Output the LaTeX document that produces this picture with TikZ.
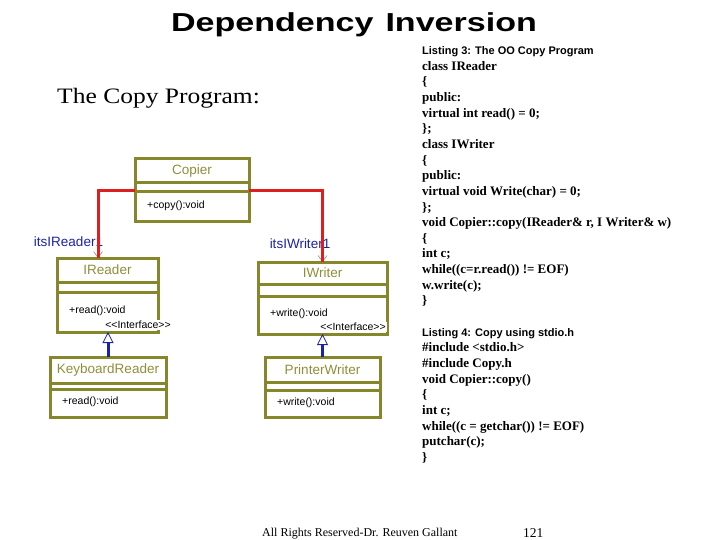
\documentclass[tikz,border=0pt]{standalone}
\usepackage{fontspec}
\setmainfont{Liberation Serif}
\setsansfont{Liberation Sans}
\usetikzlibrary{arrows.meta,positioning,calc}
\definecolor{olivo}{HTML}{86862A}
\definecolor{olivotxt}{HTML}{8E8E3A}
\definecolor{rojo}{HTML}{DD1F1F}
\definecolor{azul}{HTML}{1A22A8}
\definecolor{gris}{HTML}{8A8A8A}
\tikzset{
  classbox/.style={draw=olivo, line width=3pt, rectangle, inner sep=0pt, outer sep=0pt, anchor=north west},
  classline/.style={draw=olivo, line width=3pt},
  classname/.style={font=\sffamily\fontsize{13.5}{13.5}\selectfont, text=olivotxt, inner sep=0pt},
  classop/.style={font=\sffamily\fontsize{10.5}{10.5}\selectfont, anchor=west, inner sep=0pt},
  stereo/.style={font=\sffamily\fontsize{10.5}{10.5}\selectfont, fill=white, inner sep=1pt},
  rolename/.style={font=\sffamily\fontsize{13.5}{13.5}\selectfont, text=azul, inner sep=0pt},
  assoc/.style={draw=rojo, line width=3pt},
  barb/.style={draw=gris, line width=0.6pt, -{Straight Barb[length=6pt, width=9pt]}},
  realize/.style={draw=azul, line width=3pt, -{Triangle[open, length=11pt, width=11pt, line width=0.8pt]}},
  codetext/.style={font=\rmfamily\bfseries\fontsize{13}{15.65}\selectfont, align=left, inner sep=0pt, anchor=base west},
}
\newcommand{\lsthead}[1]{{\sffamily\bfseries\fontsize{11}{15.65}\selectfont #1}}

\begin{document}
\begin{tikzpicture}[x=1pt,y=-1pt]
  \useasboundingbox (0,0) rectangle (720,540);
  \node[font=\sffamily\bfseries\fontsize{26}{26}\selectfont, anchor=base, inner sep=0pt] (title) at (354,32)
    {\scalebox{1.31}[1]{Dependency\hspace{0.35em}Inversion}};
  \node[font=\rmfamily\fontsize{22}{22}\selectfont, anchor=base west, inner sep=0pt] (subtitle) at (57,104)
    {\scalebox{1.16}[1]{The Copy Program:}};
  % clases UML
  \foreach \nm/\x/\y/\w/\h/\sa/\sb/\ttl/\op in {
      copier/135/159/114/63/24/33/Copier/+copy():void,
      ireader/57/258/101/74/24/34/IReader/+read():void,
      iwriter/258/262/129/72/22/34/IWriter/+write():void,
      kbreader/50/357/116/60/26/32/KeyboardReader/+read():void,
      prwriter/265/357/115/60/25/33/PrinterWriter/+write():void}{
    \node[classbox, minimum width=\w pt, minimum height=\h pt] (\nm) at (\x,\y) {};
    \draw[classline] ([yshift=-\sa pt]\nm.north west) -- ([yshift=-\sa pt]\nm.north east);
    \draw[classline] ([yshift=-\sb pt]\nm.north west) -- ([yshift=-\sb pt]\nm.north east);
    \node[classname] (\nm-ttl) at ($(\nm.north)+(0,\sa/2)$) {\ttl};
    \node[classop] (\nm-op) at ($(\nm.north west)+(12,{(\sb+\h)/2-1})$) {\op};
  }
  \node[stereo] (irdst) at ([xshift=-20pt, yshift=7pt]ireader.south east) {<{}<Interface>{}>};
  \node[stereo] (iwrst) at ([xshift=-34pt, yshift=7pt]iwriter.south east) {<{}<Interface>{}>};
  % asociaciones
  \node[rolename] (rdrole) at (68.5,242) {itsIReader1};
  \node[rolename] (wrrole) at (300,244) {itsIWriter1};
  \coordinate (rdend) at ([xshift=-9.5pt]ireader.north);
  \coordinate (wrend) at (iwriter.north);
  \draw[barb] ([yshift=8pt]rdend) -- (rdend);
  \draw[barb] ([yshift=8pt]wrend) -- (wrend);
  \draw[assoc] (copier.west) -| (rdend);
  \draw[assoc] (copier.east) -| (wrend);
  % realizaciones
  \draw[realize] (kbreader.north) -- (kbreader.north |- ireader.south);
  \draw[realize] (prwriter.north) -- (prwriter.north |- iwriter.south);
  % listados (anclados en la ultima linea)
  \node[codetext] (lst3) at (422,304.9) {\lsthead{Listing 3: The OO Copy Program}\\
    class IReader\\ \{\\ public:\\ virtual int read() = 0;\\ \};\\
    class IWriter\\ \{\\ public:\\ virtual void Write(char) = 0;\\ \};\\
    void Copier::copy(IReader\& r, I Writer\& w)\\ \{\\ int c;\\
    while((c=r.read()) != EOF)\\ w.write(c);\\ \}};
  \node[codetext] (lst4) at (422,461.4) {\lsthead{Listing 4: Copy using stdio.h}\\
    \#include <stdio.h>\\ \#include Copy.h\\ void Copier::copy()\\ \{\\ int c;\\
    while((c = getchar()) != EOF)\\ putchar(c);\\ \}};
  \node[font=\rmfamily\fontsize{12}{12}\selectfont, anchor=base west, inner sep=0pt] (rights) at (262,536)
    {All Rights Reserved-Dr. Reuven Gallant};
  \node[font=\rmfamily\fontsize{13.5}{13.5}\selectfont, anchor=base west, inner sep=0pt] (pagenum) at (523,537) {121};
\end{tikzpicture}
\end{document}
